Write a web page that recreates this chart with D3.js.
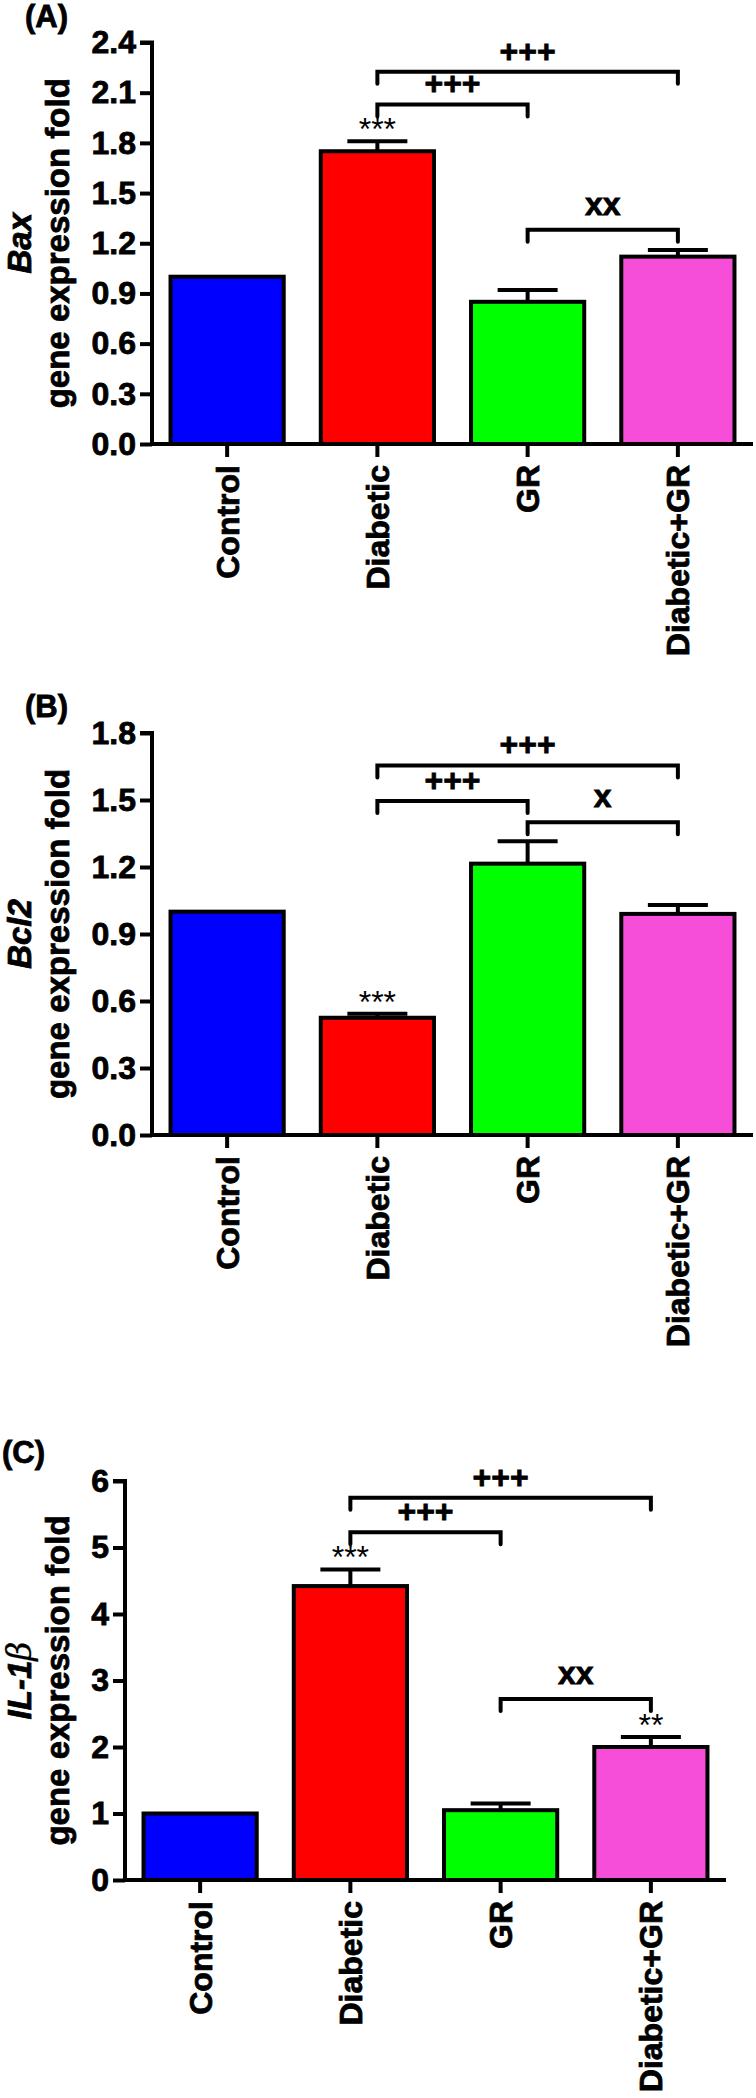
<!DOCTYPE html>
<html>
<head>
<meta charset="utf-8">
<script src="https://cdn.jsdelivr.net/npm/d3@7"></script>
<style>
  body { margin: 0; background: #fff; }
  svg { display: block; font-family: "Liberation Sans", Arial, sans-serif; }
  .heavy { stroke: #000; stroke-width: 0.8px; }
</style>
</head>
<body>
<div id="chart"></div>
<script>
// groups shared by all three panels
const groups = ["Control", "Diabetic", "GR", "Diabetic+GR"];
const groupColors = ["#0000ff", "#ff0000", "#00ff00", "#f64ed8"];

// (A) Bax
const baxMean = [1.00, 1.75, 0.85, 1.12];
const baxSem = [0, 0.06, 0.07, 0.04];
const baxTicks = [0, 0.3, 0.6, 0.9, 1.2, 1.5, 1.8, 2.1, 2.4];
const baxStars = [null, "***", null, null];
const baxBrackets = [
    { from: 1, to: 3, y: 2.225, label: "+++" },
    { from: 1, to: 2, y: 2.03, label: "+++" },
    { from: 2, to: 3, y: 1.28, label: "xx" }
];

// (B) Bcl2
const bcl2Mean = [1.00, 0.525, 1.215, 0.99];
const bcl2Sem = [0, 0.018, 0.10, 0.04];
const bcl2Ticks = [0, 0.3, 0.6, 0.9, 1.2, 1.5, 1.8];
const bcl2Stars = [null, "***", null, null];
const bcl2Brackets = [
    { from: 1, to: 3, y: 1.655, label: "+++" },
    { from: 1, to: 2, y: 1.495, label: "+++" },
    { from: 2, to: 3, y: 1.40, label: "x" }
];

// (C) IL-1β
const il1bMean = [1.00, 4.42, 1.05, 2.00];
const il1bSem = [0, 0.25, 0.10, 0.15];
const il1bTicks = [0, 1, 2, 3, 4, 5, 6];
const il1bStars = [null, "***", null, "**"];
const il1bBrackets = [
    { from: 1, to: 3, y: 5.75, label: "+++" },
    { from: 1, to: 2, y: 5.23, label: "+++" },
    { from: 2, to: 3, y: 2.72, label: "xx" }
];

const width = 756, height = 2098;
const svg = d3.select("#chart").append("svg")
    .attr("width", width)
    .attr("height", height);
svg.append("rect").attr("width", width).attr("height", height).attr("fill", "#fff");

function drawPanel(p) {
    const g = svg.append("g");

    const x = d3.scaleBand()
        .domain(groups)
        .range([p.axisX, p.axisX + 601])
        .paddingInner(0.22)
        .paddingOuter(0.11);
    const y = d3.scaleLinear()
        .domain([0, p.max])
        .range([p.bottom, p.top]);

    // bars
    g.selectAll(".bar")
        .data(p.mean)
        .join("rect")
        .attr("class", "bar")
        .attr("x", (d, i) => x(groups[i]) + 2)
        .attr("y", d => y(d))
        .attr("width", x.bandwidth() - 4)
        .attr("height", d => y(0) - y(d))
        .attr("fill", (d, i) => groupColors[i])
        .attr("stroke", "#000")
        .attr("stroke-width", 4);

    // error bars (upper half only)
    const cx = i => x(groups[i]) + x.bandwidth() / 2;
    p.mean.forEach((m, i) => {
        if (!p.sem[i]) return;
        g.append("line")
            .attr("x1", cx(i)).attr("x2", cx(i))
            .attr("y1", y(m)).attr("y2", y(m + p.sem[i]))
            .attr("stroke", "#000").attr("stroke-width", 4);
        g.append("line")
            .attr("x1", cx(i) - 30).attr("x2", cx(i) + 30)
            .attr("y1", y(m + p.sem[i])).attr("y2", y(m + p.sem[i]))
            .attr("stroke", "#000").attr("stroke-width", 4);
    });

    // stars over bars
    p.stars.forEach((s, i) => {
        if (!s) return;
        g.append("text")
            .attr("x", cx(i))
            .attr("y", y(p.mean[i] + p.sem[i]) - 1)
            .attr("text-anchor", "middle")
            .style("font-size", "32px")
            .text(s);
    });

    // significance brackets
    p.brackets.forEach(b => {
        const yy = y(b.y);
        const x1 = cx(b.from), x2 = cx(b.to);
        g.append("path")
            .attr("d", `M${x1},${yy + 12}L${x1},${yy}L${x2},${yy}L${x2},${yy + 12}`)
            .attr("fill", "none")
            .attr("stroke", "#000")
            .attr("stroke-width", 4)
            .attr("stroke-linecap", "round");
        g.append("text")
            .attr("class", "heavy")
            .attr("x", (x1 + x2) / 2)
            .attr("y", yy - (b.label.startsWith("+") ? 10 : 15))
            .attr("text-anchor", "middle")
            .style("font-size", "32px")
            .style("font-weight", "bold")
            .text(b.label);
    });

    // axes
    const yAxis = g.append("g")
        .attr("transform", `translate(${p.axisX},0)`)
        .call(d3.axisLeft(y).tickValues(p.ticks).tickSize(12).tickPadding(4)
            .tickFormat(p.fmt));
    yAxis.select(".domain").attr("d", `M-12,${p.top}H0V${p.bottom}`);

    const xAxis = g.append("g")
        .attr("transform", `translate(0,${p.bottom})`)
        .call(d3.axisBottom(x).tickSize(13).tickPadding(8));
    xAxis.select(".domain").attr("d", `M${p.axisX},0H${p.xRight}`);
    xAxis.selectAll(".tick text")
        .attr("transform", "rotate(-90)")
        .attr("x", -21)
        .attr("y", 0)
        .attr("dy", "0.36em")
        .attr("text-anchor", "end");

    [yAxis, xAxis].forEach(a => {
        a.selectAll("path, line").attr("stroke", "#000").attr("stroke-width", 4);
        a.selectAll("text")
            .attr("class", "heavy")
            .attr("fill", "#000")
            .style("font-family", "'Liberation Sans', Arial, sans-serif")
            .style("font-size", "32px")
            .style("font-weight", "bold");
    });

    // y axis title: gene name (italic) and "gene expression fold"
    const cy = (p.top + p.bottom) / 2;
    const title = g.append("text")
        .attr("class", "heavy")
        .attr("transform", `translate(31,${cy}) rotate(-90)`)
        .attr("text-anchor", "middle")
        .style("font-size", "33px")
        .style("font-weight", "bold")
        .style("font-style", "italic");
    title.append("tspan").text(p.gene);
    if (p.geneSuffix) {
        title.append("tspan")
            .style("font-family", "'DejaVu Serif', serif")
            .style("font-weight", "normal")
            .style("stroke-width", "0.3px")
            .text(p.geneSuffix);
    }
    g.append("text")
        .attr("class", "heavy")
        .attr("transform", `translate(69,${cy}) rotate(-90)`)
        .attr("text-anchor", "middle")
        .style("font-size", "33px")
        .style("font-weight", "bold")
        .text("gene expression fold");

    // panel letter
    g.append("text")
        .attr("class", "heavy")
        .attr("x", p.letterX)
        .attr("y", p.letterY)
        .style("font-size", "31px")
        .style("font-weight", "bold")
        .text(p.letter);
}

drawPanel({
    letter: "(A)", letterX: 25, letterY: 27,
    gene: "Bax", mean: baxMean, sem: baxSem, ticks: baxTicks, max: 2.4,
    stars: baxStars, brackets: baxBrackets, fmt: d3.format(".1f"),
    axisX: 152, top: 42.5, bottom: 444, xRight: 753
});
drawPanel({
    letter: "(B)", letterX: 25, letterY: 717,
    gene: "Bcl2", mean: bcl2Mean, sem: bcl2Sem, ticks: bcl2Ticks, max: 1.8,
    stars: bcl2Stars, brackets: bcl2Brackets, fmt: d3.format(".1f"),
    axisX: 152, top: 733, bottom: 1135, xRight: 753
});
drawPanel({
    letter: "(C)", letterX: 2, letterY: 1463,
    gene: "IL-1", geneSuffix: "β", mean: il1bMean, sem: il1bSem, ticks: il1bTicks, max: 6,
    stars: il1bStars, brackets: il1bBrackets, fmt: d3.format("d"),
    axisX: 125, top: 1481, bottom: 1880, xRight: 726
});
</script>
</body>
</html>
